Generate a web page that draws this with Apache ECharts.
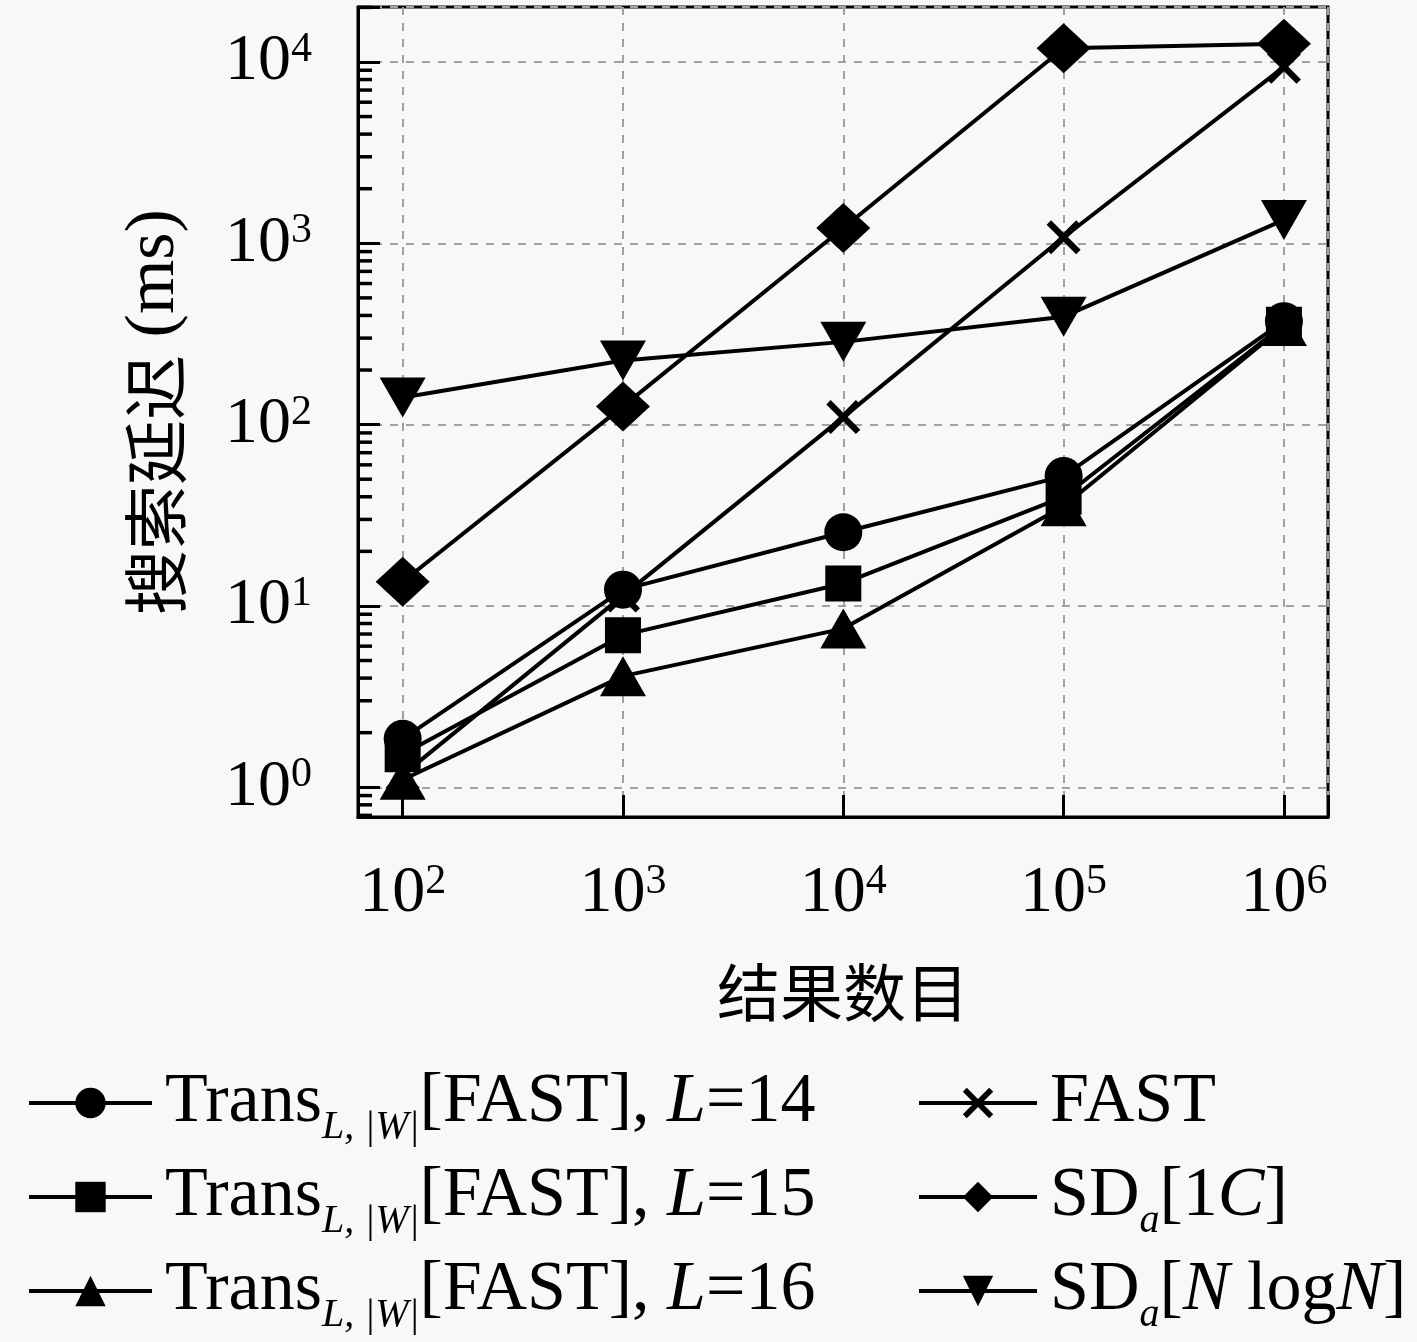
<!DOCTYPE html>
<html>
<head>
<meta charset="utf-8">
<script src="https://cdn.jsdelivr.net/npm/echarts@6/dist/echarts.min.js"></script>
<style>
  html, body { margin: 0; padding: 0; background: #f8f8f8; }
  #chart { width: 1417px; height: 1342px; }
</style>
</head>
<body>
<div id="chart"></div>
<script>
// x: result count, y: search latency (ms)
var resultCounts = [1e2, 1e3, 1e4, 1e5, 1e6];
var transL14 = [1.85, 12.3, 25.5, 52, 372];
var transL15 = [1.52, 6.9, 13.3, 40, 355];
var transL16 = [1.1, 4.1, 7.5, 35.5, 350];
var fastVals = [1.17, 11.4, 110, 1080, 9400];
var sd1C = [13.6, 126, 1215, 11900, 12600];
var sdNlogN = [141, 226, 286, 394, 1346];

var seriesNames = ['TransL14', 'TransL15', 'TransL16', 'FAST', 'SD1C', 'SDNlogN'];
var legendLabels = {
    TransL14: 'Trans{sub|L, |W|}[FAST], {it|L}=14',
    TransL15: 'Trans{sub|L, |W|}[FAST], {it|L}=15',
    TransL16: 'Trans{sub|L, |W|}[FAST], {it|L}=16',
    FAST: 'FAST',
    SD1C: 'SD{sub|a}[1{it|C}]',
    SDNlogN: 'SD{sub|a}[{it|N} log{it|N}]'
};

// axis ranges (log10: 1.797..6.2 and -0.164..4.303)
var xMin = 62.7, xMax = 1.585e6;
var yMin = 0.6855, yMax = 20100;

// minor ticks on the y axis: 2..9 x 10^k
var yMinorTicks = [];
for (var k = -1; k <= 4; k++) {
    for (var m = 2; m <= 9; m++) {
        var v = m * Math.pow(10, k);
        if (v > yMin && v < yMax) yMinorTicks.push(v);
    }
}

var serif = 'Liberation Serif';
var cjk = 'Noto Sans CJK SC';
var crossPath = 'path://M0,13L13,0L50,37L87,0L100,13L63,50L100,87L87,100L50,63L13,100L0,87L37,50Z';

function powLabel(v) {
    var e = Math.log10(v);
    var r = Math.round(e);
    if (Math.abs(e - r) > 1e-6) return '';
    return '10{sup|' + r + '}';
}

function lineSeries(name, values, symbol, size, rotate) {
    return {
        name: name,
        type: 'line',
        data: values.map(function (v, i) { return [resultCounts[i], v]; }),
        symbol: symbol,
        symbolSize: size,
        symbolRotate: rotate || 0,
        lineStyle: { color: '#000', width: 4 },
        itemStyle: { color: '#000' },
        z: 3
    };
}

var richLegend = {
    sub: { fontFamily: serif, fontStyle: 'italic', fontSize: 40, lineHeight: 40, verticalAlign: 'bottom', color: '#000' },
    it: { fontFamily: serif, fontStyle: 'italic', fontSize: 70, color: '#000' }
};

function legendBlock(names, left, width) {
    return {
        data: names,
        orient: 'vertical', left: left, top: 1054,
        itemWidth: width, itemHeight: 38, itemGap: 6,
        selectedMode: false,
        lineStyle: { width: 4, color: '#000' },
        formatter: function (n) { return legendLabels[n]; },
        textStyle: { fontFamily: serif, fontSize: 70, lineHeight: 88, color: '#000', padding: [0, 0, 0, 8], rich: richLegend }
    };
}

var chart = echarts.init(document.getElementById('chart'));
var option = {
    backgroundColor: '#f8f8f8',
    animation: false,
    grid: {
        left: 358, right: 89, top: 7, bottom: 525,
        show: true, borderColor: '#000', borderWidth: 3,
        outerBoundsMode: 'none'
    },
    legend: [
        legendBlock(seriesNames.slice(0, 3), 22, 123),
        legendBlock(seriesNames.slice(3), 912, 118)
    ],
    xAxis: {
        type: 'log', logBase: 10, min: xMin, max: xMax,
        name: '结果数目', nameLocation: 'middle', nameGap: 144,
        nameTextStyle: { fontFamily: cjk, fontSize: 63, color: '#000' },
        axisLine: { lineStyle: { color: '#000', width: 3 } },
        axisTick: { inside: true, length: 22, lineStyle: { color: '#000', width: 3 } },
        axisLabel: {
            formatter: powLabel, margin: 44, color: '#000',
            fontFamily: serif, fontSize: 66,
            rich: { sup: { fontFamily: serif, fontSize: 42, verticalAlign: 'top', color: '#000' } }
        },
        splitLine: { show: true, lineStyle: { color: '#a0a0a0', width: 2, type: [8, 8] } }
    },
    yAxis: {
        type: 'log', logBase: 10, min: yMin, max: yMax,
        name: '{c|搜索延迟}{s| (ms)}', nameLocation: 'middle', nameGap: 168,
        nameTextStyle: {
            color: '#000',
            rich: {
                c: { fontFamily: cjk, fontSize: 65, color: '#000' },
                s: { fontFamily: serif, fontSize: 70, color: '#000' }
            }
        },
        axisLine: { lineStyle: { color: '#000', width: 3 } },
        axisTick: { inside: true, length: 22, lineStyle: { color: '#000', width: 3 } },
        axisLabel: {
            formatter: powLabel, margin: 46, color: '#000',
            fontFamily: serif, fontSize: 66,
            rich: { sup: { fontFamily: serif, fontSize: 42, verticalAlign: 'top', color: '#000' } }
        },
        splitLine: { show: true, lineStyle: { color: '#a0a0a0', width: 2, type: [8, 8] } }
    },
    series: [
        lineSeries('TransL14', transL14, 'circle', 38),
        lineSeries('TransL15', transL15, 'rect', 36),
        lineSeries('TransL16', transL16, 'triangle', [46, 40]),
        lineSeries('FAST', fastVals, crossPath, 34),
        lineSeries('SD1C', sd1C, 'diamond', [54, 50]),
        lineSeries('SDNlogN', sdNlogN, 'triangle', [46, 40], 180),
        {
            name: 'yMinor',
            type: 'custom',
            silent: true,
            z: 4,
            data: yMinorTicks.map(function (v) { return [xMin, v]; }),
            renderItem: function (params, api) {
                var p = api.coord([api.value(0), api.value(1)]);
                return {
                    type: 'line',
                    shape: { x1: p[0], y1: p[1], x2: p[0] + 14, y2: p[1] },
                    style: { stroke: '#000', lineWidth: 3.5 }
                };
            }
        }
    ]
};
chart.setOption(option);
</script>
</body>
</html>
